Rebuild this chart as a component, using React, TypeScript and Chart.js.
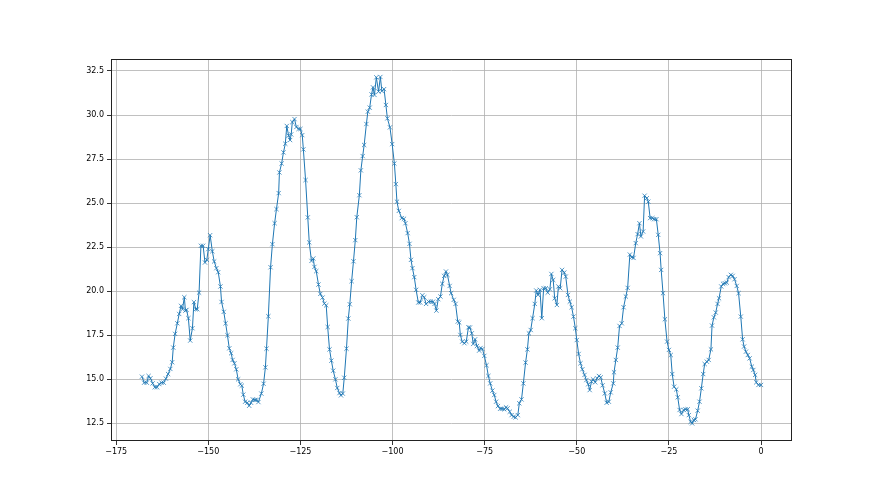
import React, { useEffect, useRef } from "react";
import { Chart, registerables } from "chart.js";

Chart.register(...registerables);

// x positions of the samples
const xValues: number[] = [
  // -168 .. -136
  -168.0, -167.4, -166.7, -166.2, -165.7, -165.1, -164.5, -163.9, -163.3, -162.7,
  -162.1, -161.5, -160.9, -160.3, -159.8, -159.5, -159.0, -158.4, -157.9, -157.4,
  -157.0, -156.5, -156.2, -155.9, -155.4, -154.9, -154.3, -153.9, -153.4, -153.0,
  -152.5, -152.0, -151.4, -150.9, -150.4, -150.0, -149.5, -148.9, -148.4, -147.8,
  -147.3, -146.7, -146.4, -145.8, -145.3, -144.8, -144.3, -143.8, -143.4, -142.9,
  -142.4, -141.9, -141.3, -140.9, -140.5, -140.0, -139.4, -138.9, -138.4, -137.9,
  -137.3, -136.9, -136.4,
  // -135.6 .. -98.3
  -135.6, -135.0, -134.5, -134.2, -133.7, -133.1, -132.6, -132.0, -131.5, -130.9,
  -130.7, -130.1, -129.6, -129.1, -128.7, -128.2, -127.8, -127.5, -127.2, -126.6,
  -126.1, -125.5, -125.0, -124.5, -124.2, -123.6, -123.0, -122.6, -122.0, -121.5,
  -121.2, -120.7, -120.1, -119.6, -119.0, -118.5, -118.0, -117.6, -117.1, -116.6,
  -116.1, -115.5, -115.0, -114.4, -114.0, -113.5, -113.1, -112.5, -112.0, -111.6,
  -111.1, -110.6, -110.1, -109.7, -109.0, -108.6, -108.1, -107.7, -107.1, -106.7,
  -106.2, -105.7, -105.3, -104.9, -104.4, -103.8, -103.3, -102.9, -102.3, -101.8,
  -101.4, -100.7, -100.1, -99.5, -99.1, -98.8, -98.3,
  // -97.5 .. -38.9
  -97.5, -96.9, -96.5, -95.9, -95.4, -95.0, -94.6, -94.1, -93.6, -93.0,
  -92.5, -91.9, -91.4, -90.9, -90.2, -89.6, -89.0, -88.6, -88.1, -87.6,
  -87.0, -86.5, -86.0, -85.5, -85.1, -84.5, -84.1, -83.4, -82.9, -82.3,
  -81.9, -81.6, -81.1, -80.5, -80.0, -79.4, -79.0, -78.5, -78.1, -77.6,
  -77.1, -76.5, -76.1, -75.6, -75.1, -74.5, -74.0, -73.5, -72.9, -72.4,
  -71.9, -71.4, -70.8, -70.3, -69.7, -69.2, -68.8, -68.2, -67.7, -67.1,
  -66.6, -66.0, -65.6, -65.0, -64.5, -63.9, -63.4, -63.0, -62.5, -62.0,
  -61.4, -61.0, -60.5, -60.0, -59.5, -59.0, -58.4, -57.9, -57.3, -56.9,
  -56.4, -56.0, -55.4, -55.0, -54.5, -54.0, -53.4, -53.0, -52.4, -51.9,
  -51.4, -50.9, -50.4, -50.0, -49.5, -49.0, -48.5, -47.9, -47.4, -46.9,
  -46.5, -46.0, -45.6, -45.0, -44.5, -44.0, -43.5, -43.0, -42.4, -41.9,
  -41.3, -40.8, -40.1, -39.9, -39.4, -38.9,
  // -38.4 .. 0
  -38.4, -37.8, -37.3, -36.7, -36.2, -35.6, -35.1, -34.6, -34.0, -33.5,
  -33.0, -32.6, -32.0, -31.6, -31.0, -30.6, -30.1, -29.5, -29.0, -28.4,
  -27.9, -27.4, -27.1, -26.6, -26.1, -25.5, -25.0, -24.5, -24.1, -23.6,
  -23.0, -22.6, -22.1, -21.6, -21.0, -20.5, -19.9, -19.6, -19.1, -18.7,
  -18.2, -17.8, -17.2, -16.7, -16.2, -15.7, -15.3, -14.7, -14.2, -13.6,
  -13.3, -12.8, -12.3, -11.8, -11.4, -10.8, -10.3, -9.8, -9.3, -8.8,
  -8.2, -7.7, -7.2, -6.6, -6.1, -5.5, -5.0, -4.6, -4.1, -3.6,
  -3.1, -2.5, -2.1, -1.6, -1.3, -0.7, 0.0,
];

// measured values at those positions
const yValues: number[] = [
  15.15, 14.81, 14.81, 15.19, 15.06, 14.77, 14.55, 14.55, 14.73, 14.81,
  14.81, 15.04, 15.30, 15.59, 15.97, 16.80, 17.58, 18.18, 18.71, 19.17,
  18.98, 19.66, 18.90, 18.94, 18.47, 17.20, 17.90, 19.38, 18.98, 18.98,
  19.92, 22.58, 22.58, 21.63, 21.78, 22.39, 23.18, 22.27, 21.69, 21.31,
  21.08, 20.27, 19.39, 18.83, 18.18, 17.50, 16.76, 16.48, 16.10, 15.91,
  15.57, 15.00, 14.72, 14.64, 14.13, 13.73, 13.67, 13.50, 13.67, 13.86,
  13.83, 13.83, 13.71,

  14.19, 14.75, 15.68, 16.74, 18.58, 21.36, 22.67, 23.86, 24.66, 25.57,
  26.74, 27.25, 27.88, 28.37, 29.38, 28.83, 28.58, 28.90, 29.60, 29.77,
  29.32, 29.21, 29.21, 28.86, 28.05, 26.31, 24.19, 22.77, 21.72, 21.86,
  21.38, 21.14, 20.38, 19.85, 19.64, 19.30, 19.20, 17.97, 16.70, 16.06,
  15.49, 15.00, 14.51, 14.22, 14.09, 14.19, 15.09, 16.74, 18.45, 19.26,
  20.57, 21.70, 22.90, 24.20, 25.45, 26.86, 27.67, 28.30, 29.49, 30.19,
  30.42, 31.17, 31.57, 31.14, 32.14, 31.33, 32.16, 31.36, 31.47, 30.57,
  29.81, 29.30, 28.35, 27.25, 26.08, 25.08, 24.56,

  24.15, 24.11, 23.86, 23.30, 22.69, 21.78, 21.31, 20.80, 20.08, 19.36,
  19.36, 19.77, 19.66, 19.28, 19.41, 19.41, 19.41, 19.28, 18.90, 19.55,
  19.70, 20.42, 20.87, 21.12, 20.93, 20.30, 19.89, 19.51, 19.28, 18.28,
  18.22, 17.52, 17.14, 17.05, 17.14, 17.95, 17.94, 17.61, 17.01, 17.27,
  16.89, 16.63, 16.78, 16.72, 16.33, 15.80, 15.19, 14.77, 14.36, 14.11,
  13.73, 13.48, 13.33, 13.33, 13.30, 13.41, 13.35, 13.16, 12.97, 12.88,
  12.84, 12.97, 13.64, 13.86, 14.77, 15.95, 16.70, 17.61, 17.80, 18.47,
  19.28, 20.04, 19.79, 20.08, 18.47, 20.17, 20.17, 19.92, 20.11, 20.98,
  20.64, 19.60, 19.22, 20.27, 20.17, 21.21, 21.06, 20.83, 19.79, 19.41,
  19.09, 18.56, 17.90, 17.23, 16.44, 15.91, 15.57, 15.25, 14.96, 14.72,
  14.39, 14.87, 15.00, 14.83, 15.06, 15.19, 15.11, 14.66, 14.20, 13.67,
  13.73, 14.26, 14.77, 15.40, 16.10, 16.80,

  18.03, 18.18, 19.09, 19.70, 20.19, 22.08, 21.93, 21.89, 22.73, 23.24,
  23.86, 23.11, 23.39, 25.42, 25.28, 25.08, 24.15, 24.15, 24.09, 24.09,
  23.20, 22.16, 21.21, 19.89, 18.41, 17.14, 16.67, 16.38, 15.30, 14.58,
  14.43, 13.98, 13.26, 13.03, 13.26, 13.30, 13.30, 12.97, 12.59, 12.50,
  12.69, 12.73, 13.22, 13.73, 14.49, 15.30, 15.87, 16.00, 16.10, 16.70,
  18.05, 18.52, 18.79, 19.28, 19.60, 20.27, 20.42, 20.45, 20.49, 20.80,
  20.93, 20.87, 20.68, 20.30, 19.89, 18.56, 17.27, 16.86, 16.57, 16.38,
  16.19, 15.72, 15.53, 15.25, 14.83, 14.68, 14.68,
];

const xTicks = [-175, -150, -125, -100, -75, -50, -25, 0];
const yTicks = [12.5, 15, 17.5, 20, 22.5, 25, 27.5, 30, 32.5];

const framePlugin = {
  id: "frame",
  afterDatasetsDraw(chart: any) {
    const { ctx, chartArea: a } = chart;
    ctx.save();
    ctx.strokeStyle = "#222";
    ctx.lineWidth = 1;
    ctx.strokeRect(
      Math.round(a.left) + 0.5,
      Math.round(a.top) + 0.5,
      Math.round(a.right - a.left) - 1,
      Math.round(a.bottom - a.top) - 1
    );
    ctx.restore();
  },
};

const fmtX = (v: number) => (v < 0 ? "\u2212" + Math.abs(v) : String(v));

export default function App() {
  const ref = useRef<HTMLCanvasElement | null>(null);

  useEffect(() => {
    document.body.style.margin = "0";
    const canvas = ref.current;
    if (!canvas) return;
    const n = Math.min(xValues.length, yValues.length);
    const points = [];
    for (let i = 0; i < n; i++) points.push({ x: xValues[i], y: yValues[i] });

    const font = { family: "'DejaVu Sans', sans-serif", size: 8 };
    const chart = new Chart(canvas, {
      type: "line",
      data: {
        datasets: [
          {
            data: points,
            borderColor: "#1f77b4",
            backgroundColor: "#1f77b4",
            borderWidth: 1,
            pointStyle: "crossRot",
            pointRadius: 3,
            pointBorderWidth: 0.9,
            pointBorderColor: "rgba(31,119,180,0.85)",
            tension: 0,
            fill: false,
          },
        ],
      },
      options: {
        animation: false,
        responsive: false,
        devicePixelRatio: 1,
        layout: { padding: { left: 0, top: 59, right: 88, bottom: 0 } },
        plugins: {
          legend: { display: false },
          tooltip: { enabled: false },
        },
        scales: {
          x: {
            type: "linear",
            min: -176.4,
            max: 8.4,
            afterBuildTicks: (s: any) => {
              s.ticks = xTicks.map((v) => ({ value: v }));
            },
            afterFit: (s: any) => {
              s.height = 54;
            },
            ticks: {
              font,
              color: "#000",
              padding: 2,
              maxRotation: 0,
              autoSkip: false,
              callback: (v: any) => fmtX(Number(v)),
            },
            grid: {
              color: "#b0b0b0",
              lineWidth: 0.8,
              tickColor: "#000",
              tickLength: 4,
            },
            border: { display: false },
          },
          y: {
            type: "linear",
            min: 11.5,
            max: 33.18,
            afterBuildTicks: (s: any) => {
              s.ticks = yTicks.map((v) => ({ value: v }));
            },
            afterFit: (s: any) => {
              s.width = 111;
            },
            ticks: {
              font,
              color: "#000",
              padding: 3,
              autoSkip: false,
              callback: (v: any) => Number(v).toFixed(1),
            },
            grid: {
              color: "#b0b0b0",
              lineWidth: 0.8,
              tickColor: "#000",
              tickLength: 4,
            },
            border: { display: false },
          },
        },
      },
      plugins: [framePlugin],
    } as any);
    return () => chart.destroy();
  }, []);

  return (
    <div style={{ width: 880, height: 495, background: "#fff" }}>
      <canvas ref={ref} width={880} height={495} style={{ display: "block" }} />
    </div>
  );
}
